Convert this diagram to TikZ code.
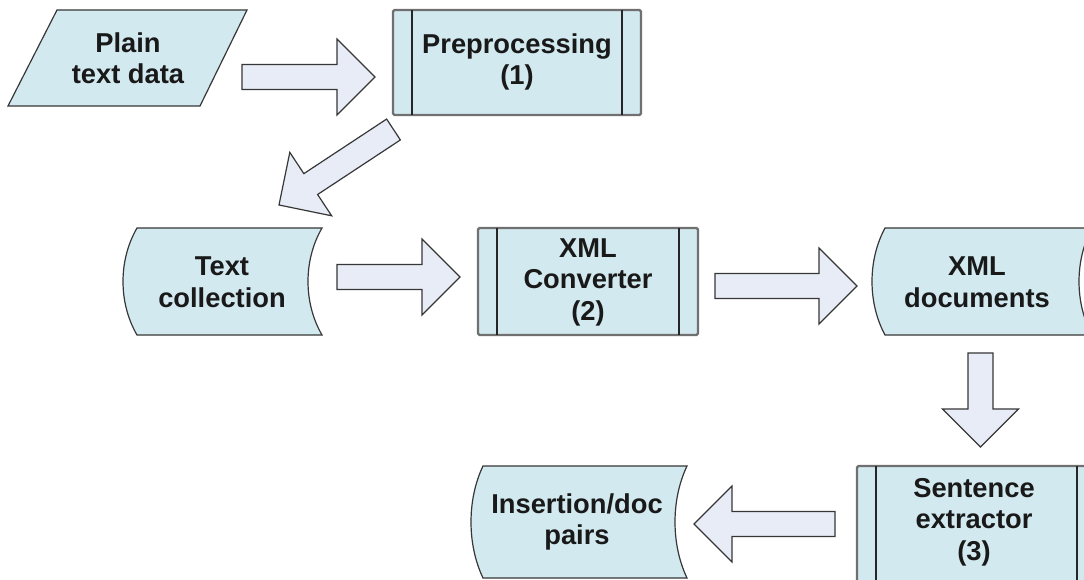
\documentclass[tikz,border=0pt]{standalone}
\usepackage{fontspec}
\setmainfont{Liberation Sans}
\usetikzlibrary{calc}
\definecolor{shapefill}{RGB}{210,233,239}
\definecolor{arrowfill}{RGB}{231,236,247}
\definecolor{edgecol}{RGB}{55,55,55}
\definecolor{procedge}{RGB}{112,112,112}
\definecolor{txt}{RGB}{25,25,25}
\tikzset{
  lbl/.style={font=\fontsize{27.3}{31.5}\selectfont\bfseries, align=center, text=txt, inner sep=0pt},
  datashape/.style={draw=edgecol, fill=shapefill, line width=1.2pt},
  procbox/.style={draw=procedge, fill=shapefill, line width=2.2pt, rounded corners=1.5pt},
  procline/.style={draw=black!85, line width=1.1pt},
  blockarrow/.style={draw=edgecol, fill=arrowfill, line width=1.2pt, line join=miter},
}
% block arrow from coordinate #1 (tail centre) to coordinate #2 (tip)
\newcommand\blockarrow[2]{%
  \draw[blockarrow] let \p1=($(#2)-(#1)$), \n1={veclen(\x1,\y1)}, \n2={atan2(\y1,\x1)} in
    [shift={(#1)}, rotate=\n2]
    (0pt,-12.5pt) -- ({\n1-38pt},-12.5pt) -- ({\n1-38pt},-38pt) -- (\n1,0pt)
    -- ({\n1-38pt},38pt) -- ({\n1-38pt},12.5pt) -- (0pt,12.5pt) -- cycle;
}
% stored-data shape: x1,y1,x2,y2,bulge
\newcommand\storeddata[5]{%
  \path[datashape] (#1,#2) -- (#3,#2)
    .. controls ({#3-4*#5/3},{#2+0.3*(#4-#2)}) and ({#3-4*#5/3},{#4-0.3*(#4-#2)}) .. (#3,#4)
    -- (#1,#4)
    .. controls ({#1-4*#5/3},{#4-0.3*(#4-#2)}) and ({#1-4*#5/3},{#2+0.3*(#4-#2)}) .. (#1,#2) -- cycle;
}
% process box: x1,y1,x2,y2,inner offset
\newcommand\procbox[5]{%
  \path[procbox] (#1,#2) rectangle (#3,#4);
  \draw[procline] ({#1+#5},#2) -- ({#1+#5},#4);
  \draw[procline] ({#3-#5},#2) -- ({#3-#5},#4);
}
\begin{document}
\begin{tikzpicture}[x=1pt,y=-1pt]
\useasboundingbox (0,0) rectangle (1084,580);
\fill[white] (0,0) rectangle (1084,580);
\clip (0,0) rectangle (1084,580);

% shapes
\path[datashape] (57,10) -- (247,10) -- (200,106) -- (8,106) -- cycle;
\node[lbl] (plain) at (128,58) {Plain\\text data};

\procbox{393}{10}{641}{115}{19}
\node[lbl] (pre) at (517,62) {Preprocessing\\(1)};

\storeddata{137}{228}{322}{335}{14}
\node[lbl] (coll) at (222,282) {Text\\collection};

\procbox{478}{228}{698}{335}{19}
\node[lbl] (conv) at (588,282) {XML\\Converter\\(2)};

\storeddata{885}{228}{1092}{335}{13}
\node[lbl] (xmld) at (977,282) {XML\\documents};

\procbox{857}{466}{1096}{582}{19}
\node[lbl] (sent) at (974,522) {Sentence\\extractor\\(3)};

\storeddata{483}{466}{687}{578}{12}
\node[lbl] (pairs) at (577,522) {Insertion/doc\\pairs};

% arrow anchors
\coordinate (a1s) at (242,77);   \coordinate (a1e) at (375,77);
\coordinate (a2s) at (393.5,129.5); \coordinate (a2e) at (279,205);
\coordinate (a3s) at (337,277);  \coordinate (a3e) at (460,277);
\coordinate (a4s) at (715,286);  \coordinate (a4e) at (857,286);
\coordinate (a5s) at (980.5,353); \coordinate (a5e) at (980.5,447);
\coordinate (a6s) at (835,524);  \coordinate (a6e) at (694,524);

\blockarrow{a1s}{a1e}
\blockarrow{a2s}{a2e}
\blockarrow{a3s}{a3e}
\blockarrow{a4s}{a4e}
\blockarrow{a5s}{a5e}
\blockarrow{a6s}{a6e}
\end{tikzpicture}
\end{document}
